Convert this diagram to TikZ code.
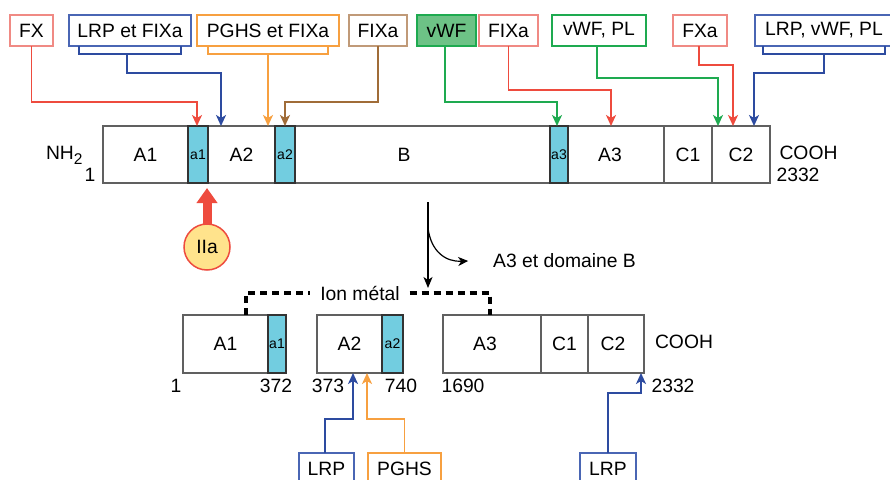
\documentclass[tikz,border=0pt]{standalone}
\usepackage{fontspec}
\setmainfont{Liberation Sans}
\usetikzlibrary{arrows.meta,calc}
\definecolor{cred}{HTML}{EE4B3E}
\definecolor{credl}{HTML}{F08A84}
\definecolor{cblue}{HTML}{2D4BA0}
\definecolor{cbluel}{HTML}{4A66B4}
\definecolor{corange}{HTML}{F7A040}
\definecolor{cbrown}{HTML}{A06C38}
\definecolor{cbrownl}{HTML}{C09A78}
\definecolor{cgreen}{HTML}{1EAA50}
\definecolor{cgreenf}{HTML}{6DC286}
\definecolor{ccyan}{HTML}{72CDE0}
\definecolor{cgray}{HTML}{606060}
\definecolor{cyellow}{HTML}{FFE38C}
\newcommand\fsA{\fontsize{19.3}{22}\selectfont}
\newcommand\fsB{\fontsize{14}{16}\selectfont}
\tikzset{
  lbl/.style={inner sep=0pt, outer sep=0pt, font=\fsA},
  topbox/.style={draw, line width=1.1pt, minimum height=31pt, inner sep=0pt, outer sep=0pt, font=\fsA, fill=white},
  seg/.style={draw=cgray, line width=1.2pt, inner sep=0pt, outer sep=0pt, font=\fsA, fill=white},
  mainseg/.style={seg, minimum height=57pt},
  botseg/.style={seg, minimum height=58pt},
  cyanseg/.style={fill=ccyan, draw=black!80, font=\fsB},
  ln/.style={line width=1.7pt},
  ar/.style={ln, -{Stealth[length=11pt,width=10pt,inset=3pt]}},
  dashline/.style={line width=3.5pt, dash pattern=on 7pt off 5pt},
}
\begin{document}
\begin{tikzpicture}[x=1pt,y=-1pt]
\useasboundingbox (0,0) rectangle (890,479);
\clip (0,0) rectangle (890,479);
\fill[white] (0,0) rectangle (890,479);

% main bar
\node[mainseg, minimum width=85pt] (A1) at (145.5,154.5) {A1};
\node[mainseg, minimum width=67pt] (A2) at (241.5,154.5) {A2};
\node[mainseg, minimum width=255pt] (B) at (422.5,154.5) {};
\node[lbl] (Bl) at (404,154.5) {B};
\node[mainseg, minimum width=96pt] (A3) at (616,154.5) {};
\node[lbl] (A3l) at (610,154.5) {A3};
\node[mainseg, minimum width=48pt] (C1) at (688,154.5) {C1};
\node[mainseg, minimum width=58pt] (C2) at (741,154.5) {C2};
\node[mainseg, cyanseg, minimum width=20pt] (a1) at (198,154.5) {a1};
\node[mainseg, cyanseg, minimum width=20pt] (a2) at (285,154.5) {a2};
\node[mainseg, cyanseg, minimum width=18pt] (a3) at (559,154.5) {a3};
\node[lbl, anchor=west] (nh2) at (46,155) {NH\raisebox{-5pt}{\fontsize{15.5}{16}\selectfont 2}};
\node[lbl] (n1) at (90,175) {1};
\node[lbl] (cooh1) at (808.5,153) {COOH};
\node[lbl] (n2332a) at (798,175) {2332};

% top boxes
\node[topbox, draw=credl, minimum width=43pt] (fx) at (31.5,30.5) {FX};
\node[topbox, draw=cbluel, minimum width=122pt] (lrp1) at (130,30.5) {LRP et FIXa};
\node[topbox, draw=corange, minimum width=142pt] (pghs1) at (268,30.5) {PGHS et FIXa};
\node[topbox, draw=cbrownl, minimum width=58pt] (fixa1) at (378,30.5) {FIXa};
\node[topbox, draw=cgreen, fill=cgreenf, minimum width=59pt] (vwf) at (446.5,30.5) {vWF};
\node[topbox, draw=credl, minimum width=59pt] (fixa2) at (508.5,30.5) {FIXa};
\node[topbox, draw=cgreen, minimum width=94pt] (vwfpl) at (599,30.5) {vWF, PL};
\node[topbox, draw=credl, minimum width=54pt] (fxa) at (700,30.5) {FXa};
\node[topbox, draw=cbluel, minimum width=138pt] (lrp2) at (824,30.5) {LRP, vWF, PL};

% top connectors
\draw[ar, cred] (fx.south) -- ++(0,56) -| ([xshift=-1pt]a1.north);
\draw[ln, cblue] ([xshift=10pt]lrp1.south west) -- ++(0,8) -| ([xshift=-10pt]lrp1.south east);
\draw[ar, cblue] ([xshift=-3pt,yshift=-8pt]lrp1.south) -- ++(0,19) -| ([xshift=13pt]A2.north west);
\draw[ln, corange] ([xshift=11pt]pghs1.south west) -- ++(0,8) -| ([xshift=-11pt]pghs1.south east);
\draw[ar, corange] ([yshift=-8pt]pghs1.south) -- ([xshift=-7pt]A2.north east);
\draw[ar, cbrown] (fixa1.south) -- ++(0,56) -| (a2.north);
\draw[ar, cgreen] ([xshift=-1.5pt]vwf.south) -- ++(0,56) -| ([xshift=-2pt]a3.north);
\draw[ar, cred] (fixa2.south) -- ++(0,44) -| ([xshift=-5pt]A3.north);
\draw[ar, cgreen] ([xshift=-2pt]vwfpl.south) -- ++(0,32) -| ([xshift=6pt]C2.north west);
\draw[ar, cred] ([xshift=-1pt]fxa.south) -- ++(0,19) -| ([xshift=21pt]C2.north west);
\draw[ln, cblue] ([xshift=8pt]lrp2.south west) -- ++(0,8) -| ([xshift=-8pt]lrp2.south east);
\draw[ar, cblue] ([yshift=-8pt]lrp2.south) -- ++(0,19) -| ([xshift=42pt]C2.north west);

% IIa
\node[circle, draw=cred, fill=cyellow, line width=1.5pt, minimum size=46pt, inner sep=0pt, outer sep=0pt, font=\fsA] (IIa) at (207,247) {IIa};
\draw[cred, line width=9pt, -{Triangle[length=15pt,width=20pt]}, shorten >=5pt] (IIa.north) -- (IIa.north |- a1.south);

% cleavage arrow
\coordinate (sp1) at (428,202);
\coordinate (sp2) at (428,288);
\coordinate (spc) at (428,228);
\node[lbl] (dom) at (564.5,261) {A3 et domaine B};
\draw[line width=1.4pt, -{Stealth[length=11pt,width=9pt,inset=3pt]}] (sp1) -- (sp2);
\draw[line width=1.2pt, -{Stealth[length=10pt,width=9pt,inset=3pt]}] (spc) .. controls (431,252) and (446,262) .. ([xshift=-25pt]dom.west);

% bottom fragments
\node[botseg, minimum width=85pt] (bA1) at (225.5,344) {A1};
\node[botseg, cyanseg, minimum width=18pt] (ba1) at (277,344) {a1};
\node[botseg, minimum width=65pt] (bA2) at (349.5,344) {A2};
\node[botseg, cyanseg, minimum width=21pt] (ba2) at (392.5,344) {a2};
\node[botseg, minimum width=98pt] (bA3) at (492,344) {};
\node[lbl] (bA3l) at (485,344) {A3};
\node[botseg, minimum width=47pt] (bC1) at (564.5,344) {C1};
\node[botseg, minimum width=56pt] (bC2) at (616,344) {};
\node[lbl] (bC2l) at (613,344) {C2};
\node[lbl] (cooh2) at (684,342) {COOH};
\node[lbl] (b1) at (176,386) {1};
\node[lbl] (b372) at (276,386) {372};
\node[lbl] (b373) at (328,386) {373};
\node[lbl] (b740) at (401,386) {740};
\node[lbl] (b1690) at (463,386) {1690};
\node[lbl] (b2332) at (673,386) {2332};

% metal ion
\node[lbl, inner xsep=10pt] (ion) at (360,293) {Ion métal};
\draw[dashline] ([xshift=63pt]bA1.north west) |- (ion.west);
\draw[dashline] (ion.east) -| ([xshift=47pt]bA3.north west);

% bottom boxes
\node[topbox, draw=cbluel, minimum width=55pt] (blrp1) at (326.5,468.5) {LRP};
\node[topbox, draw=corange, minimum width=73pt] (bpghs) at (404.5,468.5) {PGHS};
\node[topbox, draw=cbluel, minimum width=56pt] (blrp2) at (608,468.5) {LRP};
\draw[ar, cblue] ([xshift=-1.5pt]blrp1.north) -- ++(0,-34) -| ([xshift=36pt]bA2.south west);
\draw[ar, corange] (bpghs.north) -- ++(0,-34) -| ([xshift=50pt]bA2.south west);
\draw[ar, cblue] (blrp2.north) -- ++(0,-60) -| ([xshift=-3pt]bC2.south east);
\end{tikzpicture}
\end{document}
